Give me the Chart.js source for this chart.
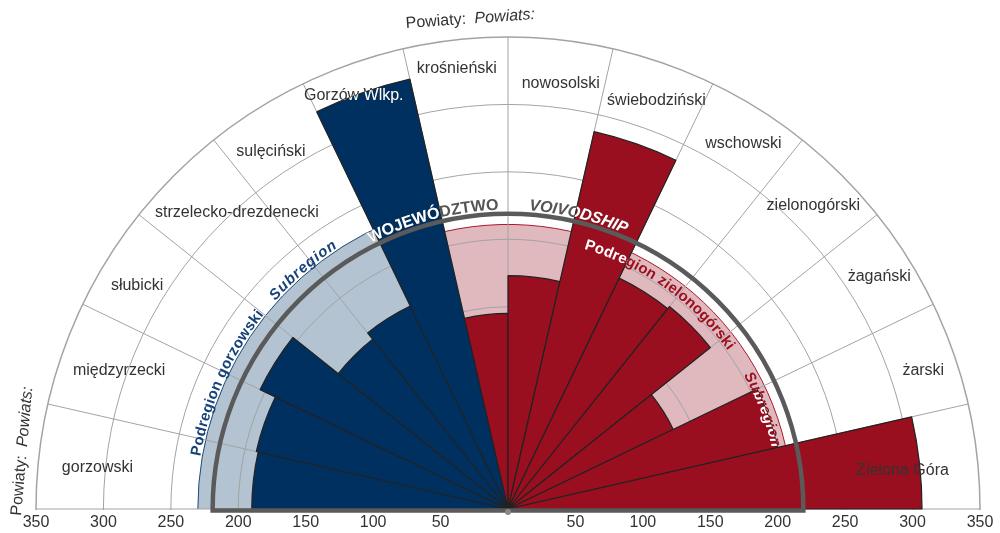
<!DOCTYPE html>
<html>
<head>
<meta charset="utf-8">
<script src="https://cdn.jsdelivr.net/npm/chart.js@4.4.0/dist/chart.umd.min.js"></script>
<style>
  html, body { margin: 0; padding: 0; background: #fff; width: 1000px; height: 533px; overflow: hidden; }
  canvas { position: absolute; left: 0; top: 0; }
</style>
</head>
<body>
<canvas id="chart" width="1000" height="1000"></canvas>
<script>
// powiaty round the half circle, left to right
const powiaty = ['gorzowski', 'międzyrzecki', 'słubicki', 'strzelecko-drezdenecki', 'sulęciński', 'Gorzów Wlkp.',
                 'krośnieński', 'nowosolski', 'świebodziński', 'wschowski', 'zielonogórski', 'żagański', 'żarski', 'Zielona Góra'];
const wartosci = [190, 191.5, 204, 161, 167, 327, 145, 173, 287, 190, 192, 136, 205, 307];
const liczbaGorzowski = 6;          // first 6 powiaty = Podregion gorzowski, the rest = zielonogórski
const podregionGorzowski = 230;
const podregionZielonogorski = 211;
const wojewodztwo = 219;
const tickValues = [50, 100, 150, 200, 250, 300, 350];

// where the county names sit: distance (axis units) and position across the sector
const labelDist = [306, 306, 321, 298, 318, 327.5, 329, 318, 322, 322, 319, 324.7, 324.6, 294];
const labelFrac = [0.45, 0.52, 0.415, 0.70, 0.39, 0.41, 0.485, 0.55, 0.555, 0.553, 0.516, 0.51, 0.566, 0.567];

const FONT = "'Liberation Sans', Arial, sans-serif";
const BLUE = '#00305f', RED = '#9a0f1f';

const n = powiaty.length;
const allLabels = powiaty.concat(Array(n).fill(''));
const allData = wartosci.concat(Array(n).fill(0));
const colors = allData.map((v, i) => i >= n ? 'rgba(0,0,0,0)' : (i < liczbaGorzowski ? BLUE : RED));

function sectorPath(ctx, cx, cy, r, a0, a1) {
    ctx.moveTo(cx, cy);
    ctx.arc(cx, cy, r, a0, a1);
    ctx.closePath();
}

function arcText(ctx, cx, cy, r, startDeg, text, font, spacing) {
    let theta = -startDeg * Math.PI / 180;
    ctx.font = font;
    ctx.textAlign = 'center';
    ctx.textBaseline = 'alphabetic';
    for (const ch of text) {
        const w = ctx.measureText(ch).width;
        const mid = theta + (w / 2) / r;
        ctx.save();
        ctx.translate(cx + r * Math.cos(mid), cy + r * Math.sin(mid));
        ctx.rotate(mid + Math.PI / 2);
        ctx.fillText(ch, 0, 0);
        ctx.restore();
        theta += (w + (spacing || 0)) / r;
    }
}

// subregion bands, under the grid
const bandsPlugin = {
    id: 'bands',
    beforeDraw(chart) {
        const s = chart.scales.r, ctx = chart.ctx;
        const cx = s.xCenter, cy = s.yCenter;
        const step = Math.PI / n;
        const split = Math.PI + liczbaGorzowski * step;
        const rg = s.getDistanceFromCenterForValue(podregionGorzowski);
        const rz = s.getDistanceFromCenterForValue(podregionZielonogorski);
        ctx.save();
        ctx.beginPath(); sectorPath(ctx, cx, cy, rg, Math.PI, split);
        ctx.fillStyle = '#b3c3d1'; ctx.fill();
        ctx.beginPath(); ctx.arc(cx, cy, rg, Math.PI, split);
        ctx.strokeStyle = '#1d4a7a'; ctx.lineWidth = 1; ctx.stroke();
        ctx.beginPath(); sectorPath(ctx, cx, cy, rz, split, 2 * Math.PI);
        ctx.fillStyle = '#dfb9be'; ctx.fill();
        ctx.beginPath(); ctx.arc(cx, cy, rz, split, 2 * Math.PI);
        ctx.strokeStyle = '#a8182a'; ctx.stroke();
        ctx.restore();
    }
};

const overlayPlugin = {
    id: 'overlay',
    afterDatasetsDraw(chart) {
        const s = chart.scales.r, ctx = chart.ctx;
        const cx = s.xCenter, cy = s.yCenter;
        const step = Math.PI / n;
        const arcs = chart.getDatasetMeta(0).data;
        const barsClip = (from, to) => {
            ctx.beginPath();
            for (let i = from; i < to; i++) {
                const a = arcs[i];
                sectorPath(ctx, a.x, a.y, a.outerRadius, a.startAngle, a.endAngle);
            }
        };

        ctx.save();
        // hide the lower half of the full circle
        ctx.fillStyle = '#fff';
        ctx.fillRect(0, cy + 1, chart.width, chart.height);

        // voivodship line
        const rw = s.getDistanceFromCenterForValue(wojewodztwo);
        ctx.beginPath();
        ctx.arc(cx, cy, rw, Math.PI, 2 * Math.PI);
        ctx.lineTo(cx + rw, cy + 1.5);
        ctx.lineTo(cx - rw, cy + 1.5);
        ctx.closePath();
        ctx.strokeStyle = '#5a5a5a'; ctx.lineWidth = 4.5; ctx.lineJoin = 'miter';
        ctx.stroke();

        ctx.beginPath(); ctx.arc(cx, cy + 3, 3, 0, 2 * Math.PI);
        ctx.fillStyle = '#8a8a8a'; ctx.fill();

        // county names
        const drawLabels = (color) => {
            ctx.fillStyle = color;
            ctx.font = '16px ' + FONT;
            ctx.textAlign = 'center'; ctx.textBaseline = 'middle';
            powiaty.forEach((p, i) => {
                const ang = Math.PI + (i + labelFrac[i]) * step;
                const d = s.getDistanceFromCenterForValue(labelDist[i]);
                ctx.fillText(p, cx + d * Math.cos(ang), cy + d * Math.sin(ang));
            });
        };
        drawLabels('#333');
        ctx.save(); barsClip(0, liczbaGorzowski); ctx.clip(); drawLabels('#fff'); ctx.restore();

        // WOJEWÓDZTWO / VOIVODSHIP
        const rt = rw + 4;
        const wojText = (color) => {
            ctx.fillStyle = color;
            arcText(ctx, cx, cy, rt, 117.3, 'WOJEWÓDZTWO', 'bold 16px ' + FONT);
            arcText(ctx, cx, cy, rt, 86, 'VOIVODSHIP', 'italic bold 16px ' + FONT);
        };
        wojText('#555');
        ctx.save();
        barsClip(0, n);
        sectorPath(ctx, cx, cy, s.getDistanceFromCenterForValue(podregionGorzowski), Math.PI, Math.PI + liczbaGorzowski * step);
        ctx.clip(); wojText('#fff'); ctx.restore();

        // Podregion gorzowski
        const rg = s.getDistanceFromCenterForValue(podregionGorzowski) + 2;
        ctx.fillStyle = '#16427a';
        arcText(ctx, cx, cy, rg, 170.3, 'Podregion gorzowski', 'bold 15px ' + FONT, 0.3);
        arcText(ctx, cx, cy, rg, 138.2, 'Subregion', 'italic bold 15px ' + FONT, 1);

        // Podregion zielonogórski
        const rz = s.getDistanceFromCenterForValue(201);
        const ziel = (color) => {
            ctx.fillStyle = color;
            arcText(ctx, cx, cy, rz, 73.7, 'Podregion zielonogórski', 'bold 15px ' + FONT, 0.2);
            arcText(ctx, cx, cy, rz, 29.6, 'Subregion', 'italic bold 15px ' + FONT, 0.5);
        };
        ziel('#9b1020');
        ctx.save(); barsClip(0, n); ctx.clip(); ziel('#fff'); ctx.restore();

        // value labels along the base line
        ctx.fillStyle = '#333';
        ctx.font = '16px ' + FONT;
        ctx.textAlign = 'center'; ctx.textBaseline = 'middle';
        tickValues.forEach(v => {
            const d = s.getDistanceFromCenterForValue(v);
            ctx.fillText(String(v), cx - d, cy + 14);
            ctx.fillText(String(v), cx + d, cy + 14);
        });

        // axis titles
        ctx.font = '16px ' + FONT;
        ctx.textAlign = 'left'; ctx.textBaseline = 'alphabetic';
        ctx.save();
        ctx.translate(406, 28); ctx.rotate(-4 * Math.PI / 180);
        ctx.fillText('Powiaty:', 0, 0);
        ctx.font = 'italic 16px ' + FONT;
        ctx.fillText('Powiats:', 69, 0);
        ctx.restore();
        ctx.save();
        ctx.translate(21, 516); ctx.rotate(-85 * Math.PI / 180);
        ctx.font = '16px ' + FONT;
        ctx.fillText('Powiaty:', 0, 0);
        ctx.font = 'italic 16px ' + FONT;
        ctx.fillText('Powiats:', 69, 0);
        ctx.restore();

        ctx.restore();
    }
};

new Chart(document.getElementById('chart'), {
    type: 'polarArea',
    data: {
        labels: allLabels,
        datasets: [{
            data: allData,
            backgroundColor: colors,
            borderColor: '#222',
            borderWidth: 1.2
        }]
    },
    options: {
        responsive: false,
        animation: false,
        layout: { padding: { left: 36, right: 20, top: 37, bottom: 19 } },
        plugins: { legend: { display: false }, tooltip: { enabled: false } },
        scales: {
            r: {
                min: 0,
                max: 350,
                startAngle: -90,
                ticks: { display: false, stepSize: 50 },
                grid: { color: '#a3a3a3', lineWidth: c => c.index === 7 ? 1.5 : 1 },
                angleLines: { display: true, color: '#a3a3a3', lineWidth: 1 },
                pointLabels: { display: false }
            }
        }
    },
    plugins: [bandsPlugin, overlayPlugin]
});
</script>
</body>
</html>
